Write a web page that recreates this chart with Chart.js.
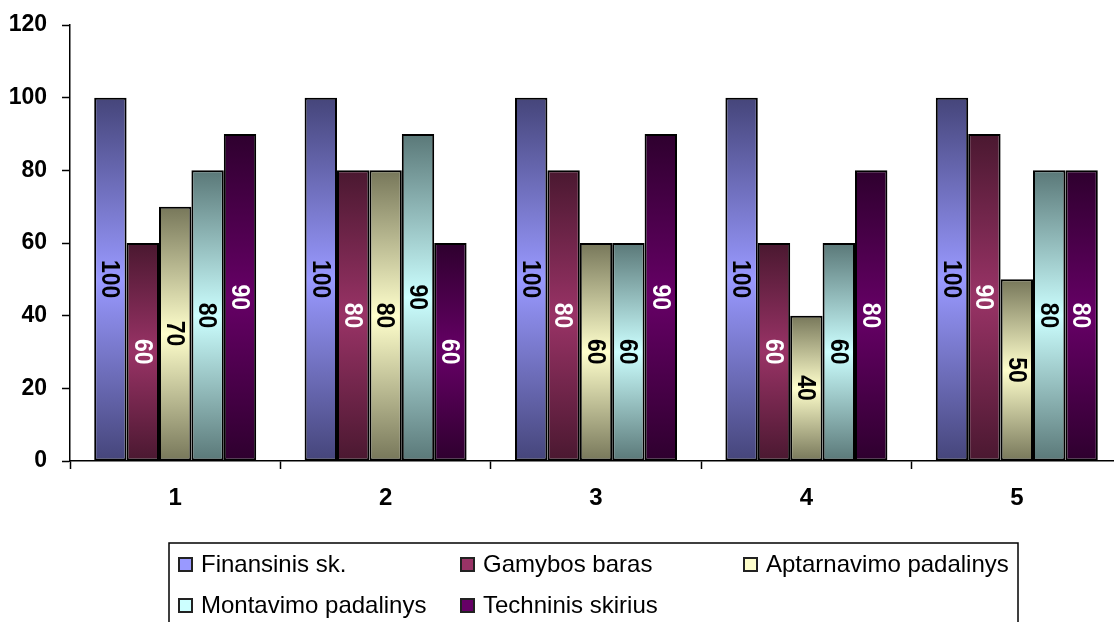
<!DOCTYPE html>
<html lang="lt">
<head>
  <meta charset="UTF-8" />
  <title>Padalinių rodikliai</title>
  <script src="https://cdn.jsdelivr.net/npm/chart.js"></script>
  <style>
    html, body {
      margin: 0;
      padding: 0;
      background: #fff;
      overflow: hidden;
    }
    #wrap {
      width: 1124px;
      height: 622px;
    }
  </style>
</head>
<body>
  <div id="wrap">
    <canvas id="chart" width="1124" height="622"></canvas>
  </div>

  <script>
    const categories = ['1', '2', '3', '4', '5'];
    const seriesNames = ['Finansinis sk.', 'Gamybos baras', 'Aptarnavimo padalinys', 'Montavimo padalinys', 'Techninis skirius'];

    const finansinis = [100, 100, 100, 100, 100];
    const gamybos = [60, 80, 80, 60, 90];
    const aptarnavimo = [70, 80, 60, 40, 50];
    const montavimo = [80, 90, 60, 60, 80];
    const techninis = [90, 60, 90, 80, 80];

    const yTicks = [0, 20, 40, 60, 80, 100, 120];

    // light middle colour and dark edge colour of each bar gradient
    const midColors = ['#9999ff', '#993366', '#ffffcc', '#ccffff', '#660066'];
    const edgeColors = ['#45457a', '#4a1830', '#77775a', '#5a7878', '#2e002e'];
    const labelColors = ['#000', '#fff', '#000', '#000', '#fff'];

    const FONT = '"Liberation Sans", Arial, sans-serif';

    function barFill(ctx) {
      const i = ctx.datasetIndex;
      const chart = ctx.chart;
      const y = chart.scales && chart.scales.y;
      if (ctx.type !== 'data' || !y || !chart.chartArea) return midColors[i];
      const top = y.getPixelForValue(ctx.raw);
      const base = y.getPixelForValue(0);
      if (!isFinite(top) || !isFinite(base) || top === base) return midColors[i];
      const g = chart.ctx.createLinearGradient(0, top, 0, base);
      g.addColorStop(0, edgeColors[i]);
      g.addColorStop(0.5, midColors[i]);
      g.addColorStop(1, edgeColors[i]);
      return g;
    }

    // value written sideways in the middle of every bar
    const barLabels = {
      id: 'barLabels',
      afterDatasetsDraw(chart) {
        const c = chart.ctx;
        chart.data.datasets.forEach((ds, di) => {
          const meta = chart.getDatasetMeta(di);
          meta.data.forEach((bar, i) => {
            const cy = (bar.y + bar.base) / 2;
            c.save();
            c.translate(bar.x, cy);
            c.rotate(Math.PI / 2);
            c.scale(1, 1.12);
            c.font = 'bold 23px ' + FONT;
            c.fillStyle = labelColors[di];
            c.textAlign = 'center';
            c.textBaseline = 'middle';
            c.fillText(String(ds.data[i]), 0, 1);
            c.restore();
          });
        });
      }
    };

    // boxed legend in three columns under the plot
    const boxLegend = {
      id: 'boxLegend',
      afterDraw(chart) {
        const c = chart.ctx;
        const box = { x: 169, y: 543, w: 849, h: 100 };
        const cols = [178, 460, 743];
        const rows = [564, 605];
        c.save();
        c.strokeStyle = '#000';
        c.lineWidth = 1.5;
        c.strokeRect(box.x, box.y, box.w, box.h);
        chart.data.datasets.forEach((ds, i) => {
          const x = cols[i % 3];
          const y = rows[Math.floor(i / 3)];
          c.fillStyle = midColors[i];
          c.fillRect(x + 1, y - 6, 13, 13);
          c.strokeStyle = '#222';
          c.lineWidth = 2;
          c.strokeRect(x + 1, y - 6, 13, 13);
          c.fillStyle = '#000';
          c.font = '24px ' + FONT;
          c.textAlign = 'left';
          c.textBaseline = 'middle';
          c.fillText(ds.label, x + 23, y + 1);
        });
        c.restore();
      }
    };

    const seriesData = [finansinis, gamybos, aptarnavimo, montavimo, techninis];

    new Chart(document.getElementById('chart'), {
      type: 'bar',
      data: {
        labels: categories,
        datasets: seriesData.map((d, i) => ({
          label: seriesNames[i],
          data: d,
          backgroundColor: barFill,
          borderColor: '#000',
          borderWidth: 2,
          borderSkipped: false,
          barPercentage: 1,
          categoryPercentage: 0.77
        }))
      },
      options: {
        responsive: false,
        animation: false,
        devicePixelRatio: 1,
        layout: { padding: { top: 25, left: 0, right: 2, bottom: 101 } },
        plugins: {
          legend: { display: false },
          tooltip: { enabled: false }
        },
        scales: {
          x: {
            afterFit: s => { s.height = 60; },
            grid: {
              offset: true,
              drawOnChartArea: false,
              drawTicks: true,
              tickLength: 8,
              tickColor: '#000',
              tickWidth: 1.5
            },
            border: { color: '#000', width: 1.5 },
            ticks: {
              color: '#000',
              padding: 15,
              font: { family: FONT, size: 24, weight: 'bold' }
            }
          },
          y: {
            min: 0,
            max: 120,
            afterFit: s => {
              s.width = 70;
              s.paddingTop = 0;
              s.paddingBottom = 0;
            },
            afterBuildTicks: s => { s.ticks = yTicks.map(v => ({ value: v })); },
            grid: {
              drawOnChartArea: false,
              drawTicks: true,
              tickLength: 8,
              tickColor: '#000',
              tickWidth: 1.5
            },
            border: { color: '#000', width: 1.5 },
            ticks: {
              color: '#000',
              padding: 15,
              font: { family: FONT, size: 23, weight: 'bold' }
            }
          }
        }
      },
      plugins: [barLabels, boxLegend]
    });
  </script>
</body>
</html>
